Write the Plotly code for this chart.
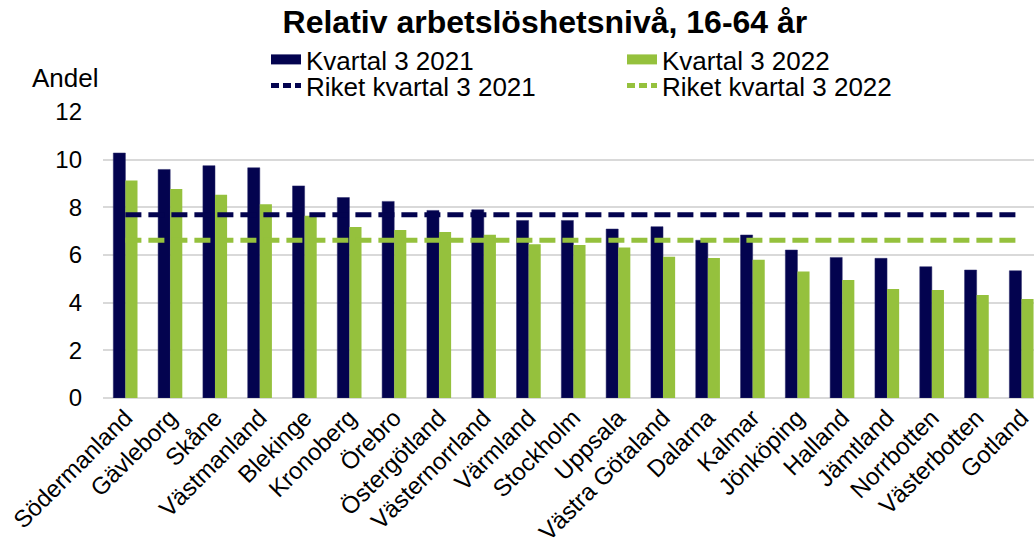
import plotly.graph_objects as go

categories = ["Södermanland", "Gävleborg", "Skåne", "Västmanland", "Blekinge", "Kronoberg",
              "Örebro", "Östergötland", "Västernorrland", "Värmland", "Stockholm", "Uppsala",
              "Västra Götaland", "Dalarna", "Kalmar", "Jönköping", "Halland", "Jämtland",
              "Norrbotten", "Västerbotten", "Gotland"]
q3_2021 = [10.28, 9.59, 9.75, 9.66, 8.90, 8.41, 8.25, 7.87, 7.90, 7.45, 7.45, 7.09,
           7.19, 6.62, 6.84, 6.21, 5.90, 5.86, 5.51, 5.37, 5.34]
q3_2022 = [9.13, 8.77, 8.53, 8.13, 7.65, 7.17, 7.05, 6.97, 6.85, 6.45, 6.42, 6.31,
           5.93, 5.87, 5.80, 5.31, 4.95, 4.57, 4.53, 4.32, 4.15]
riket_2021 = 7.69
riket_2022 = 6.62
y_ticks = [0, 2, 4, 6, 8, 10, 12]

NAVY = "#03034f"
GREEN = "#95c13d"
FONT = "Liberation Sans, Arial, sans-serif"

fig = go.Figure()
# bars (legend keys drawn as wide swatches below)
fig.add_trace(go.Bar(x=categories, y=q3_2021, name="Kvartal 3 2021", showlegend=False,
                     marker=dict(color=NAVY, line=dict(color="#2a2a6a", width=0.5))))
fig.add_trace(go.Bar(x=categories, y=q3_2022, name="Kvartal 3 2022", showlegend=False,
                     marker=dict(color=GREEN, line=dict(width=0))))
fig.add_trace(go.Scatter(x=categories, y=[riket_2021] * len(categories), mode="lines",
                         name="Riket kvartal 3 2021", showlegend=False,
                         line=dict(color=NAVY, width=5, dash="16px,7px")))
fig.add_trace(go.Scatter(x=categories, y=[riket_2022] * len(categories), mode="lines",
                         name="Riket kvartal 3 2022", showlegend=False,
                         line=dict(color=GREEN, width=5, dash="16px,7px")))

# legend keys
fig.add_trace(go.Scatter(x=[None], y=[None], mode="lines", name="Kvartal 3 2021",
                         line=dict(color=NAVY, width=15), legend="legend"))
fig.add_trace(go.Scatter(x=[None], y=[None], mode="lines", name="Kvartal 3 2022",
                         line=dict(color=GREEN, width=15), legend="legend"))
fig.add_trace(go.Scatter(x=[None], y=[None], mode="lines", name="Riket kvartal 3 2021",
                         line=dict(color=NAVY, width=5, dash="8px,4px"), legend="legend2"))
fig.add_trace(go.Scatter(x=[None], y=[None], mode="lines", name="Riket kvartal 3 2022",
                         line=dict(color=GREEN, width=5, dash="8px,4px"), legend="legend2"))

leg_common = dict(orientation="h", x=(266 - 103) / 931, xanchor="left", yanchor="middle",
                  entrywidth=311, entrywidthmode="pixels",
                  font=dict(size=26, family=FONT, color="black"), traceorder="normal",
                  bgcolor="rgba(0,0,0,0)")

fig.update_layout(
    width=1034, height=544,
    margin=dict(l=103, r=0, t=112, b=146, autoexpand=False),
    paper_bgcolor="white", plot_bgcolor="white",
    font=dict(family=FONT, color="black", size=24),
    title=dict(text="<b>Relativ arbetslöshetsnivå, 16-64 år</b>",
               x=0.527, xanchor="center", y=0.96, yanchor="middle",
               font=dict(size=32, family=FONT, color="black")),
    barmode="group", bargap=0.46, bargroupgap=0,
    showlegend=True,
    legend=dict(leg_common, y=(398 - 59.5) / 286),
    legend2=dict(leg_common, y=(398 - 85.5) / 286),
    xaxis=dict(range=[-0.5, 20.28], tickangle=-45, showgrid=False,
               showline=False, ticks="", tickfont=dict(size=24)),
    yaxis=dict(range=[0, 12], tickvals=y_ticks, showgrid=True, gridcolor="#d9d9d9",
               gridwidth=1.5, zeroline=True, zerolinecolor="#d9d9d9", zerolinewidth=1.5,
               ticks="", ticklabelstandoff=20, tickfont=dict(size=24)),
    annotations=[dict(text="Andel", xref="paper", yref="paper",
                      x=(30 - 103) / 931, y=(398 - 78) / 286,
                      xanchor="left", yanchor="middle", showarrow=False,
                      font=dict(size=26, family=FONT))],
)

fig.write_html("out.html", config={"displayModeBar": False},
               post_script="document.body.style.margin='0';document.body.style.overflow='hidden';")
